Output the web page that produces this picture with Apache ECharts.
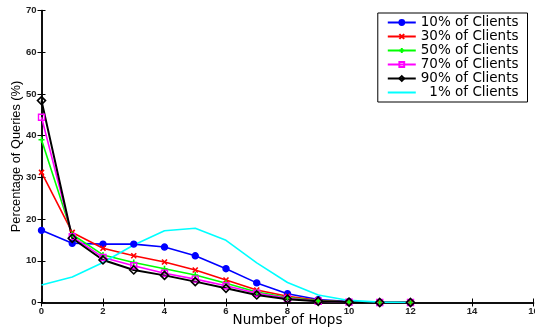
<!DOCTYPE html>
<html><head><meta charset="utf-8">
<script src="https://cdn.jsdelivr.net/npm/echarts@6/dist/echarts.min.js"></script>
<style>html,body{margin:0;padding:0;background:#fff}#c{width:535px;height:333px}</style>
</head><body><div id="c"></div>
<script>
const hops = [0,1,2,3,4,5,6,7,8,9,10,11,12];
const xTicks = [0,2,4,6,8,10,12,14,16];
const yTicks = [0,10,20,30,40,50,60,70];
const names = ['10% of Clients','30% of Clients','50% of Clients','70% of Clients','90% of Clients','1% of Clients'];
const c10 = [17.3,14.2,14.0,14.0,13.3,11.2,8.1,4.7,2.1,0.7,0.2,0,0];
const c30 = [31.2,16.8,13.0,11.2,9.7,7.8,5.4,3.0,1.5,0.5,0.1,0,0];
const c50 = [39.0,16.3,11.4,9.6,8.1,6.6,4.6,2.5,1.2,0.4,0.1,0,0];
const c70 = [44.4,15.8,10.8,8.8,7.0,5.6,4.0,2.2,1.0,0.3,0.1,0,0];
const c90 = [48.4,15.4,10.2,7.8,6.5,5.0,3.4,1.8,0.8,0.3,0.1,0,0];
const c1  = [4.2,6.1,9.6,13.8,17.2,17.8,14.9,9.5,4.8,1.8,0.5,0.1,0];

const F = 'Liberation Sans, Arial, Helvetica, sans-serif';
const FW = 'DejaVu Sans, Verdana, sans-serif';
function pts(arr){ return hops.map((h,i)=>[h,arr[i]]); }
function ser(name, data, color, symbol, size, extra){
  return Object.assign({
    name, type:'line', data: pts(data), symbol, symbolSize:size,
    showSymbol: symbol!=='none',
    lineStyle:{color, width:1.6}, itemStyle:{color, borderColor:color, borderWidth:1.4},
    animation:false, z: 2
  }, extra||{});
}
const series = [
  ser(names[0], c10, '#0000ff', 'circle', 6),
  ser(names[1], c30, '#ff0000', 'path://M0,0L10,10M10,0L0,10', 5, {itemStyle:{color:'#ff0000',borderColor:'#ff0000',borderWidth:1.6}}),
  ser(names[2], c50, '#00ff00', 'path://M5,0L5,10M0,5L10,5', 6, {itemStyle:{color:'#00ff00',borderColor:'#00ff00',borderWidth:1.6}}),
  ser(names[3], c70, '#ff00ff', 'path://M0,0L10,0L10,10L0,10Z', 6, {itemStyle:{color:'rgba(0,0,0,0)',borderColor:'#ff00ff',borderWidth:1.4}}),
  ser(names[4], c90, '#000000', 'path://M5,0L10,5L5,10L0,5Z', 8, {itemStyle:{color:'rgba(0,0,0,0)',borderColor:'#000000',borderWidth:1.6}, lineStyle:{color:'#000',width:2}}),
  ser(names[5], c1, '#00ffff', 'none', 0)
];
const axisCommon = {
  type:'value', axisLine:{show:true, lineStyle:{color:'#000', width:1.5}},
  axisTick:{show:true, inside:true, length:4, lineStyle:{color:'#000'}},
  splitLine:{show:false}
};
const legendData = names.map(n => n.startsWith('1%') ? {name:n, itemStyle:{opacity:0}} : {name:n});
const chart = echarts.init(document.getElementById('c'), null, {renderer:'canvas'});
chart.setOption({
  animation:false,
  backgroundColor:'#fff',
  grid:{left:41.5, right:1.5, top:10.5, bottom:30.5, containLabel:false, outerBoundsMode:'none'},
  legend:{
    data:legendData, orient:'vertical', right:7.5, top:13,
    backgroundColor:'#fff', borderColor:'#000', borderWidth:1,
    padding:[2.5,9,2.5,9], itemGap:0, itemWidth:28, itemHeight:6,
    textStyle:{fontFamily:FW, fontSize:13.5, lineHeight:13.2, color:'#000'},
    formatter: n => n.startsWith('1%') ? '  '+n : n
  },
  xAxis:[
    Object.assign({}, axisCommon, {min:0, max:16, interval:2, position:'bottom',
      name:'Number of Hops', nameLocation:'middle', nameGap:11, nameMoveOverlap:false,
      nameTextStyle:{fontFamily:FW, fontSize:13.5, color:'#000'},
      axisLabel:{fontFamily:F, fontSize:9.5, fontWeight:'bold', color:'#222', margin:4}}),
    Object.assign({}, axisCommon, {min:0, max:16, interval:2, position:'top', axisLabel:{show:false}})
  ],
  yAxis:[
    Object.assign({}, axisCommon, {min:0, max:70, interval:10, position:'left',
      name:'Percentage of Queries (%)', nameLocation:'middle', nameGap:19, nameMoveOverlap:false,
      nameTextStyle:{fontFamily:F, fontSize:12.8, color:'#000'},
      axisLabel:{fontFamily:F, fontSize:9.5, fontWeight:'bold', color:'#222', margin:5}}),
    Object.assign({}, axisCommon, {min:0, max:70, interval:10, position:'right', axisLabel:{show:false}})
  ],
  series
});
</script></body></html>
